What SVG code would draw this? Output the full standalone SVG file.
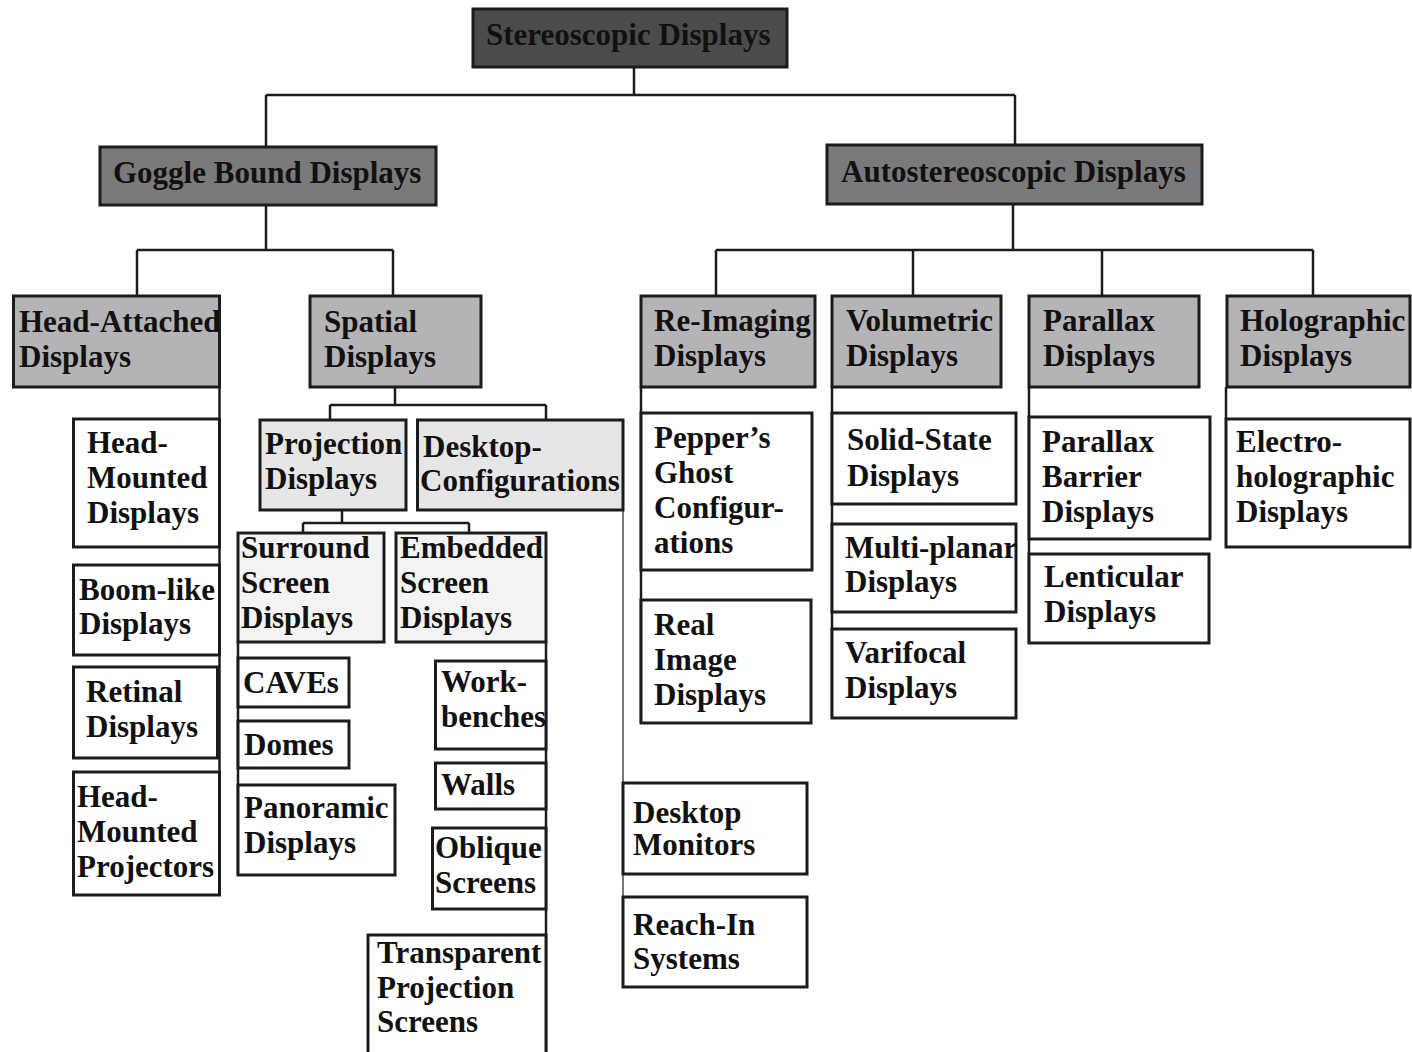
<svg xmlns="http://www.w3.org/2000/svg" width="1412" height="1052" viewBox="0 0 1412 1052">
<style>
.box{stroke:#1c1c1c;stroke-width:3}
.c0{fill:#4b4c49}
.c1{fill:#7a7a7a}
.c2{fill:#b4b3b5}
.c3{fill:#e6e6e6}
.c4{fill:#f3f3f3}
.c5{fill:#ffffff}
.t{font-family:"Liberation Serif","Times New Roman",serif;font-weight:bold;font-size:31px;fill:#111}
.ln{fill:none;stroke:#1c1c1c;stroke-width:2.5}
.lg{fill:none;stroke:#777;stroke-width:2}
</style>
<rect width="1412" height="1052" fill="#ffffff"/>
<g id="connectors">
<path class="ln" d="M634 67V95M266 95H1015M266 95V148M1015 95V146"/>
<path class="ln" d="M266 205V250M137 250H393M137 250V296M393 250V296"/>
<path class="ln" d="M1013 204V250M716 250H1313M716 250V296M913 250V296M1102 250V296M1313 250V296"/>
<path class="ln" d="M395 387V405M330 405H546M330 405V420M546 405V420"/>
<path class="ln" d="M342 510V523M303 523H469M303 523V533M469 523V533"/>
<path class="ln" d="M219.5 387V895"/>
<path class="ln" d="M238 642V875"/>
<path class="ln" d="M546 642V1052"/>
<path class="lg" d="M623 510V987"/>
<path class="ln" d="M641 387V723"/>
<path class="ln" d="M832 387V718"/>
<path class="ln" d="M1029 387V643"/>
<path class="ln" d="M1226 387V419"/>
</g>
<g id="n-stereoscopic"><rect class="box c0" x="473" y="9" width="314" height="58"/><text class="t" x="486" y="45">Stereoscopic Displays</text></g>
<g id="n-goggle"><rect class="box c1" x="100" y="147" width="336" height="58"/><text class="t" x="113" y="183">Goggle Bound Displays</text></g>
<g id="n-auto"><rect class="box c1" x="827" y="145" width="375" height="59"/><text class="t" x="841" y="182">Autostereoscopic Displays</text></g>
<g id="n-headattached"><rect class="box c2" x="13.5" y="296" width="206" height="91"/><text class="t"><tspan x="19" y="332">Head-Attached</tspan><tspan x="19" y="367">Displays</tspan></text></g>
<g id="n-spatial"><rect class="box c2" x="310" y="296" width="171" height="91"/><text class="t"><tspan x="324" y="332">Spatial</tspan><tspan x="324" y="367">Displays</tspan></text></g>
<g id="n-reimaging"><rect class="box c2" x="641" y="296" width="174" height="91"/><text class="t"><tspan x="654" y="331">Re-Imaging</tspan><tspan x="654" y="366">Displays</tspan></text></g>
<g id="n-volumetric"><rect class="box c2" x="832" y="296" width="169" height="91"/><text class="t"><tspan x="846" y="331">Volumetric</tspan><tspan x="846" y="366">Displays</tspan></text></g>
<g id="n-parallax"><rect class="box c2" x="1029" y="296" width="170" height="91"/><text class="t"><tspan x="1043" y="331">Parallax</tspan><tspan x="1043" y="366">Displays</tspan></text></g>
<g id="n-holographic"><rect class="box c2" x="1227" y="296" width="183" height="91"/><text class="t"><tspan x="1240" y="331">Holographic</tspan><tspan x="1240" y="366">Displays</tspan></text></g>
<g id="n-hmd"><rect class="box c5" x="73.5" y="419" width="146" height="128"/><text class="t"><tspan x="87" y="453">Head-</tspan><tspan x="87" y="488">Mounted</tspan><tspan x="87" y="523">Displays</tspan></text></g>
<g id="n-boom"><rect class="box c5" x="73.5" y="565" width="146" height="90"/><text class="t"><tspan x="79" y="600">Boom-like</tspan><tspan x="79" y="634">Displays</tspan></text></g>
<g id="n-retinal"><rect class="box c5" x="73.5" y="667" width="144" height="91"/><text class="t"><tspan x="86" y="702">Retinal</tspan><tspan x="86" y="737">Displays</tspan></text></g>
<g id="n-hmp"><rect class="box c5" x="73.5" y="772" width="146" height="123"/><text class="t"><tspan x="77" y="807">Head-</tspan><tspan x="77" y="842">Mounted</tspan><tspan x="77" y="877">Projectors</tspan></text></g>
<g id="n-projection"><rect class="box c3" x="260" y="420" width="146" height="90"/><text class="t"><tspan x="265" y="454">Projection</tspan><tspan x="265" y="489">Displays</tspan></text></g>
<g id="n-desktopconf"><rect class="box c3" x="417.5" y="420" width="205.5" height="90"/><text class="t"><tspan x="423" y="457">Desktop-</tspan><tspan x="420" y="491">Configurations</tspan></text></g>
<g id="n-surround"><rect class="box c4" x="238" y="533" width="146" height="109"/><text class="t"><tspan x="241" y="558">Surround</tspan><tspan x="241" y="593">Screen</tspan><tspan x="241" y="628">Displays</tspan></text></g>
<g id="n-embedded"><rect class="box c4" x="396" y="533" width="150" height="109"/><text class="t"><tspan x="400" y="558">Embedded</tspan><tspan x="400" y="593">Screen</tspan><tspan x="400" y="628">Displays</tspan></text></g>
<g id="n-caves"><rect class="box c5" x="238" y="658" width="111" height="49"/><text class="t" x="243" y="693">CAVEs</text></g>
<g id="n-domes"><rect class="box c5" x="238" y="721" width="111" height="47"/><text class="t" x="244" y="755">Domes</text></g>
<g id="n-panoramic"><rect class="box c5" x="238" y="785" width="157" height="90"/><text class="t"><tspan x="244" y="818">Panoramic</tspan><tspan x="244" y="853">Displays</tspan></text></g>
<g id="n-workbenches"><rect class="box c5" x="435.5" y="661" width="110.5" height="88"/><text class="t"><tspan x="441" y="692">Work-</tspan><tspan x="441" y="727">benches</tspan></text></g>
<g id="n-walls"><rect class="box c5" x="435.5" y="763" width="110.5" height="46"/><text class="t" x="441" y="795">Walls</text></g>
<g id="n-oblique"><rect class="box c5" x="432.5" y="828" width="113.5" height="81"/><text class="t"><tspan x="435" y="858">Oblique</tspan><tspan x="435" y="893">Screens</tspan></text></g>
<g id="n-transparent"><rect class="box c5" x="368" y="935" width="178" height="130"/><text class="t"><tspan x="377" y="963">Transparent</tspan><tspan x="377" y="998">Projection</tspan><tspan x="377" y="1032">Screens</tspan></text></g>
<g id="n-desktopmon"><rect class="box c5" x="623" y="783" width="184" height="91"/><text class="t"><tspan x="633" y="823">Desktop</tspan><tspan x="633" y="855">Monitors</tspan></text></g>
<g id="n-reachin"><rect class="box c5" x="623" y="897" width="184" height="90"/><text class="t"><tspan x="633" y="935">Reach-In</tspan><tspan x="633" y="969">Systems</tspan></text></g>
<g id="n-peppers"><rect class="box c5" x="641" y="413" width="171" height="157"/><text class="t"><tspan x="654" y="448">Pepper’s</tspan><tspan x="654" y="483">Ghost</tspan><tspan x="654" y="518">Configur-</tspan><tspan x="654" y="553">ations</tspan></text></g>
<g id="n-realimage"><rect class="box c5" x="641" y="600" width="170" height="123"/><text class="t"><tspan x="654" y="635">Real</tspan><tspan x="654" y="670">Image</tspan><tspan x="654" y="705">Displays</tspan></text></g>
<g id="n-solidstate"><rect class="box c5" x="832" y="413" width="184" height="91"/><text class="t"><tspan x="847" y="450">Solid-State</tspan><tspan x="847" y="486">Displays</tspan></text></g>
<g id="n-multiplanar"><rect class="box c5" x="832" y="524" width="184" height="88"/><text class="t"><tspan x="845" y="558">Multi-planar</tspan><tspan x="845" y="592">Displays</tspan></text></g>
<g id="n-varifocal"><rect class="box c5" x="832" y="629" width="184" height="89"/><text class="t"><tspan x="845" y="663">Varifocal</tspan><tspan x="845" y="698">Displays</tspan></text></g>
<g id="n-barrier"><rect class="box c5" x="1029" y="417" width="181" height="122"/><text class="t"><tspan x="1042" y="452">Parallax</tspan><tspan x="1042" y="487">Barrier</tspan><tspan x="1042" y="522">Displays</tspan></text></g>
<g id="n-lenticular"><rect class="box c5" x="1029" y="554" width="180" height="89"/><text class="t"><tspan x="1044" y="587">Lenticular</tspan><tspan x="1044" y="622">Displays</tspan></text></g>
<g id="n-electro"><rect class="box c5" x="1226" y="419" width="184" height="128"/><text class="t"><tspan x="1236" y="452">Electro-</tspan><tspan x="1236" y="487">holographic</tspan><tspan x="1236" y="522">Displays</tspan></text></g>
</svg>
